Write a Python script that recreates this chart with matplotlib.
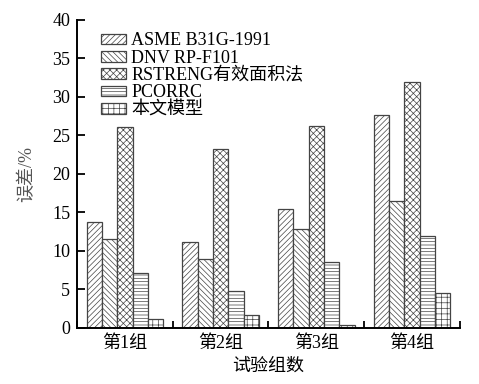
import numpy as np
import matplotlib
matplotlib.use('Agg')
import matplotlib.pyplot as plt

plt.rcParams['font.family'] = ['Liberation Serif', 'Noto Sans CJK SC']
plt.rcParams['hatch.linewidth'] = 0.5
plt.rcParams['hatch.color'] = '#999999'

groups = ['第1组', '第2组', '第3组', '第4组']
methods = ['ASME B31G-1991', 'DNV RP-F101', 'RSTRENG有效面积法', 'PCORRC', '本文模型']
asme = [13.7, 11.1, 15.5, 27.7]
dnv = [11.6, 9.0, 12.9, 16.5]
rstreng = [26.1, 23.3, 26.2, 31.9]
pcorrc = [7.2, 4.8, 8.5, 12.0]
model = [1.2, 1.7, 0.4, 4.5]
series = [asme, dnv, rstreng, pcorrc, model]
hatches = ['//////', '\\\\\\\\\\\\', 'xxxxx', '-----', '+++']

fig = plt.figure(figsize=(4.79, 3.84), dpi=100)
ax = fig.add_axes([0.161, 0.146, 0.799, 0.802])

x = np.arange(len(groups))
w = 0.16
for i, vals in enumerate(series):
    ax.bar(x + (i - 2) * w, vals, w, color='white', edgecolor='#444444',
           linewidth=0.9, hatch=hatches[i], label=methods[i])

ax.set_xlim(-0.5, 3.5)
ax.set_ylim(0, 40)
ax.set_yticks(range(0, 41, 5))
ax.set_xticks(x)
ax.set_xticklabels(groups)
ax.set_xticks(np.arange(-0.5, 3.6, 1), minor=True)
ax.tick_params(axis='x', which='major', length=0, labelsize=13, pad=5)
ax.tick_params(axis='x', which='minor', direction='in', length=5, width=1.3)
ax.tick_params(axis='y', direction='in', length=6, width=1.3, labelsize=13, pad=5)
for s in ['top', 'right']:
    ax.spines[s].set_visible(False)
for s in ['left', 'bottom']:
    ax.spines[s].set_linewidth(1.4)

ax.set_ylabel('误差/%', fontsize=13, color='#555555', labelpad=12)
ax.set_xlabel('试验组数', fontsize=13, labelpad=4)

ax.legend(loc='upper left', bbox_to_anchor=(0.035, 0.995), frameon=False,
          fontsize=13, handlelength=1.35, handleheight=0.55, labelspacing=0.02,
          handletextpad=0.3, borderaxespad=0.2)

fig.savefig('out.png', dpi=100)
